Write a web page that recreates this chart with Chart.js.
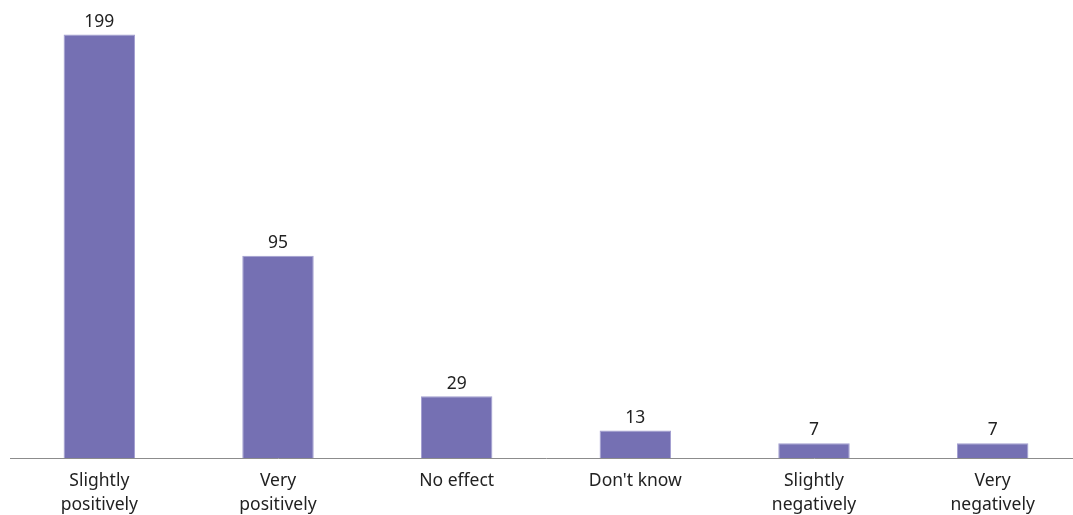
<!DOCTYPE html>
<html lang="en">
<head>
  <meta charset="UTF-8" />
  <title>Effect responses</title>
  <script src="https://cdn.jsdelivr.net/npm/chart.js"></script>
  <style>
    html, body { margin: 0; padding: 0; background: #fff; overflow: hidden; }
    /* plot runs slightly past the right and bottom edges, like the original crop */
    #wrap { width: 1082px; height: 528px; position: relative; }
  </style>
</head>
<body>
  <div id="wrap"><canvas id="barChart"></canvas></div>

  <script>
    const categories = [
      ['Slightly', 'positively'],
      ['Very', 'positively'],
      'No effect',
      "Don't know",
      ['Slightly', 'negatively'],
      ['Very', 'negatively']
    ];
    const counts = [199, 95, 29, 13, 7, 7];
    const yMax = 210;

    const FONT = '"Noto Sans", "Open Sans", sans-serif';

    // value labels on top of each bar
    const valueLabels = {
      id: 'valueLabels',
      afterDatasetsDraw(chart) {
        const ctx = chart.ctx;
        const meta = chart.getDatasetMeta(0);
        ctx.save();
        ctx.font = '17.5px ' + FONT;
        ctx.fillStyle = '#222';
        ctx.textAlign = 'center';
        ctx.textBaseline = 'bottom';
        meta.data.forEach((bar, i) => {
          ctx.fillText(counts[i], bar.x, bar.y - 4);
        });
        ctx.restore();
      }
    };

    new Chart(document.getElementById('barChart'), {
      type: 'bar',
      data: {
        labels: categories,
        datasets: [{
          data: counts,
          backgroundColor: '#7570b3',
          borderColor: '#a29ed0',
          borderWidth: 1,
          barPercentage: 0.4,
          categoryPercentage: 1
        }]
      },
      options: {
        responsive: true,
        maintainAspectRatio: false,
        animation: false,
        layout: { padding: { top: 11, left: 10, right: 0, bottom: 0 } },
        plugins: {
          legend: { display: false },
          tooltip: { enabled: false }
        },
        scales: {
          x: {
            grid: { display: false, drawTicks: false },
            border: { display: true, color: '#8c8c8c', width: 1 },
            ticks: {
              color: '#222',
              padding: 11,
              maxRotation: 0,
              autoSkip: false,
              font: { family: FONT, size: 17.5, lineHeight: 1.37 }
            }
          },
          y: {
            display: false,
            min: 0,
            max: yMax
          }
        }
      },
      plugins: [valueLabels]
    });
  </script>
</body>
</html>
